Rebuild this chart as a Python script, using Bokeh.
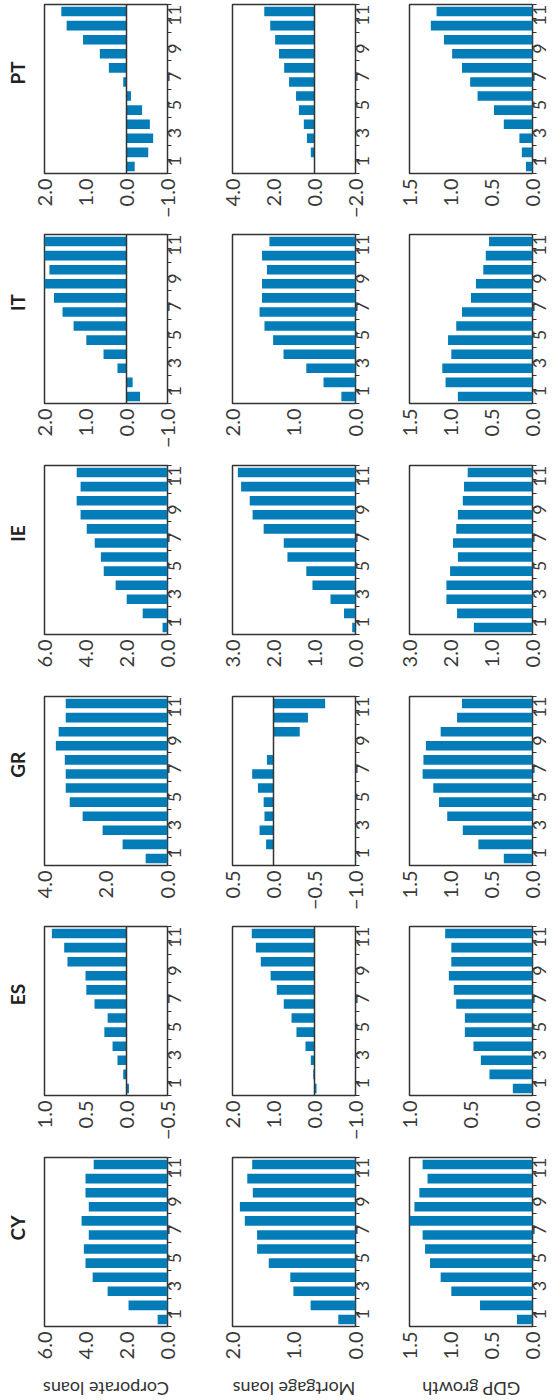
import math

from bokeh.embed import file_html
from bokeh.layouts import column, row
from bokeh.models import CustomJSTickFormatter, FixedTicker, Range1d, Span
from bokeh.plotting import figure
from bokeh.resources import INLINE

# Horizon (months) shared by every panel
months = list(range(1, 13))

# Countries, listed top to bottom
countries = ["PT", "IT", "IE", "GR", "ES", "CY"]
# Variables, listed left to right
variables = ["Corporate loans", "Mortgage loans", "GDP growth"]

# Responses by month (1..12)
pt_corporate = [-0.20, -0.53, -0.65, -0.57, -0.38, -0.11, 0.08, 0.43, 0.65, 1.06, 1.46, 1.59]
pt_mortgage = [0.02, 0.18, 0.37, 0.52, 0.76, 0.90, 1.24, 1.48, 1.73, 1.92, 2.16, 2.45]
pt_gdp = [0.08, 0.13, 0.16, 0.35, 0.47, 0.67, 0.76, 0.86, 0.98, 1.08, 1.24, 1.17]

it_corporate = [-0.33, -0.15, 0.22, 0.56, 0.98, 1.29, 1.56, 1.77, 2.00, 1.88, 2.00, 2.00]
it_mortgage = [0.23, 0.52, 0.80, 1.17, 1.34, 1.48, 1.56, 1.52, 1.52, 1.44, 1.52, 1.40]
it_gdp = [0.91, 1.06, 1.10, 0.99, 1.03, 0.93, 0.86, 0.75, 0.69, 0.60, 0.57, 0.53]

ie_corporate = [0.24, 1.21, 1.99, 2.53, 3.11, 3.25, 3.55, 3.94, 4.24, 4.43, 4.24, 4.43]
ie_mortgage = [0.08, 0.28, 0.61, 1.05, 1.20, 1.66, 1.75, 2.24, 2.51, 2.58, 2.79, 2.87]
ie_gdp = [1.43, 1.84, 2.10, 2.10, 2.01, 1.82, 1.94, 1.86, 1.82, 1.70, 1.67, 1.58]

gr_corporate = [0.71, 1.46, 2.11, 2.76, 3.18, 3.31, 3.31, 3.34, 3.63, 3.54, 3.31, 3.31]
gr_mortgage = [0.00, 0.09, 0.17, 0.11, 0.12, 0.19, 0.26, 0.08, 0.00, -0.32, -0.42, -0.63]
gr_gdp = [0.35, 0.66, 0.85, 1.04, 1.14, 1.21, 1.34, 1.33, 1.30, 1.12, 0.92, 0.86]

es_corporate = [-0.03, 0.04, 0.11, 0.17, 0.27, 0.23, 0.39, 0.49, 0.50, 0.72, 0.76, 0.91]
es_mortgage = [-0.05, 0.03, 0.09, 0.22, 0.44, 0.56, 0.75, 0.92, 1.07, 1.31, 1.43, 1.53]
es_gdp = [0.16, 0.35, 0.42, 0.48, 0.55, 0.55, 0.62, 0.64, 0.68, 0.66, 0.66, 0.71]

cy_corporate = [0.48, 1.90, 2.92, 3.65, 4.00, 4.08, 3.84, 4.19, 3.84, 4.00, 4.00, 3.60]
cy_mortgage = [0.28, 0.73, 1.01, 1.06, 1.41, 1.60, 1.60, 1.80, 1.88, 1.67, 1.76, 1.68]
cy_gdp = [0.19, 0.64, 0.99, 1.12, 1.25, 1.31, 1.34, 1.50, 1.44, 1.38, 1.28, 1.34]

# Value-axis ticks for each panel (first and last tick bound the axis)
pt_ticks = [[-1.0, 0.0, 1.0, 2.0], [-2.0, 0.0, 2.0, 4.0], [0.0, 0.5, 1.0, 1.5]]
it_ticks = [[-1.0, 0.0, 1.0, 2.0], [0.0, 1.0, 2.0], [0.0, 0.5, 1.0, 1.5]]
ie_ticks = [[0.0, 2.0, 4.0, 6.0], [0.0, 1.0, 2.0, 3.0], [0.0, 1.0, 2.0, 3.0]]
gr_ticks = [[0.0, 2.0, 4.0], [-1.0, -0.5, 0.0, 0.5], [0.0, 0.5, 1.0, 1.5]]
es_ticks = [[-0.5, 0.0, 0.5, 1.0], [-1.0, 0.0, 1.0, 2.0], [0.0, 0.5, 1.0]]
cy_ticks = [[0.0, 2.0, 4.0, 6.0], [0.0, 1.0, 2.0], [0.0, 0.5, 1.0, 1.5]]

series = {
    "PT": [pt_corporate, pt_mortgage, pt_gdp],
    "IT": [it_corporate, it_mortgage, it_gdp],
    "IE": [ie_corporate, ie_mortgage, ie_gdp],
    "GR": [gr_corporate, gr_mortgage, gr_gdp],
    "ES": [es_corporate, es_mortgage, es_gdp],
    "CY": [cy_corporate, cy_mortgage, cy_gdp],
}
axis_ticks = {"PT": pt_ticks, "IT": it_ticks, "IE": ie_ticks,
              "GR": gr_ticks, "ES": es_ticks, "CY": cy_ticks}

BLUE = "#047cb8"
INK = "#333333"
LABEL_INK = "#3a3a3a"
FONT = "Lato"

# Panel geometry (pixels)
FRAME_W, FRAME_H = 123, 169
STRIP_W = 30                       # strip holding the country names
col_widths = [170, 184, 173]
col_left = [14, 32, 25]
row_heights = [230, 231, 231, 230, 231, 223]
TOP = 4
TITLE_CY = 93                      # country name centre, from the row top
CAPTION_H = 24

minus_fmt = CustomJSTickFormatter(code="return tick.toFixed(1).replace('-', '\\u2212');")


def blank(w, h):
    p = figure(width=w, height=h, x_range=Range1d(0, w), y_range=Range1d(0, h),
               output_backend="svg", toolbar_location=None, tools="", min_border=0)
    p.axis.visible = False
    p.grid.visible = False
    p.outline_line_color = None
    p.background_fill_color = "white"
    p.border_fill_color = "white"
    return p


def country_strip(country, h):
    # Bold country name, reading upwards, beside the first panel of its row
    p = blank(STRIP_W, h)
    p.text(x=[STRIP_W / 2 + 2], y=[h - TITLE_CY], text=[country],
           angle=math.pi / 2, text_align="center", text_baseline="middle",
           text_font={"value": FONT}, text_font_style="bold",
           text_font_size="19px", text_color="#222222")
    return p


def panel(country, c, h):
    vals = series[country][c]
    ticks = axis_ticks[country][c]
    lo, hi = ticks[0], ticks[-1]
    w = col_widths[c]
    p = figure(
        frame_width=FRAME_W, frame_height=FRAME_H,
        x_range=Range1d(hi, lo), y_range=Range1d(0.5, 12.5),
        y_axis_location="right",
        output_backend="svg", toolbar_location=None, tools="",
        min_border_left=col_left[c], min_border_right=w - col_left[c] - FRAME_W,
        min_border_top=TOP, min_border_bottom=h - TOP - FRAME_H,
    )
    p.background_fill_color = "white"
    p.border_fill_color = "white"
    p.outline_line_color = INK
    p.outline_line_width = 1.5
    p.xgrid.visible = False
    p.ygrid.visible = False

    p.hbar(y=months, left=0, right=vals, height=0.68, color=BLUE, line_color=None)

    if lo < 0:
        p.add_layout(Span(location=0, dimension="height",
                          line_color=INK, line_width=1.5))

    xa = p.xaxis[0]
    xa.ticker = FixedTicker(ticks=ticks)
    xa.formatter = minus_fmt
    xa.axis_line_color = None
    xa.major_tick_out = 0
    xa.major_tick_in = 0
    xa.minor_tick_line_color = None
    xa.major_label_orientation = math.pi / 2
    xa.major_label_standoff = 5
    xa.major_label_text_font = FONT
    xa.major_label_text_font_size = "20px"
    xa.major_label_text_color = LABEL_INK

    ya = p.yaxis[0]
    ya.ticker = FixedTicker(ticks=[1, 3, 5, 7, 9, 11],
                            minor_ticks=[m - 0.5 for m in months] + [12.5])
    ya.axis_line_color = None
    ya.major_tick_out = 0
    ya.major_tick_in = 0
    ya.minor_tick_out = 4
    ya.minor_tick_in = 0
    ya.minor_tick_line_color = INK
    ya.minor_tick_line_width = 1.2
    ya.major_label_orientation = math.pi / 2
    ya.major_label_standoff = 3
    ya.major_label_text_font = FONT
    ya.major_label_text_font_size = "18px"
    ya.major_label_text_color = LABEL_INK
    return p


def caption(c):
    # Upside-down variable name centred under its column of panels
    w = col_widths[c]
    p = blank(w, CAPTION_H)
    p.text(x=[col_left[c] + FRAME_W / 2], y=[CAPTION_H / 2], text=[variables[c]],
           angle=math.pi, text_align="center", text_baseline="middle",
           text_font={"value": FONT}, text_font_size="18px", text_color=INK)
    return p


grid_rows = []
for r, country in enumerate(countries):
    h = row_heights[r]
    grid_rows.append(row(country_strip(country, h),
                         *[panel(country, c, h) for c in range(len(variables))]))
grid_rows.append(row(blank(STRIP_W, CAPTION_H), *[caption(c) for c in range(len(variables))]))

layout = column(*grid_rows)

with open("out.html", "w") as f:
    f.write(file_html(layout, INLINE))
